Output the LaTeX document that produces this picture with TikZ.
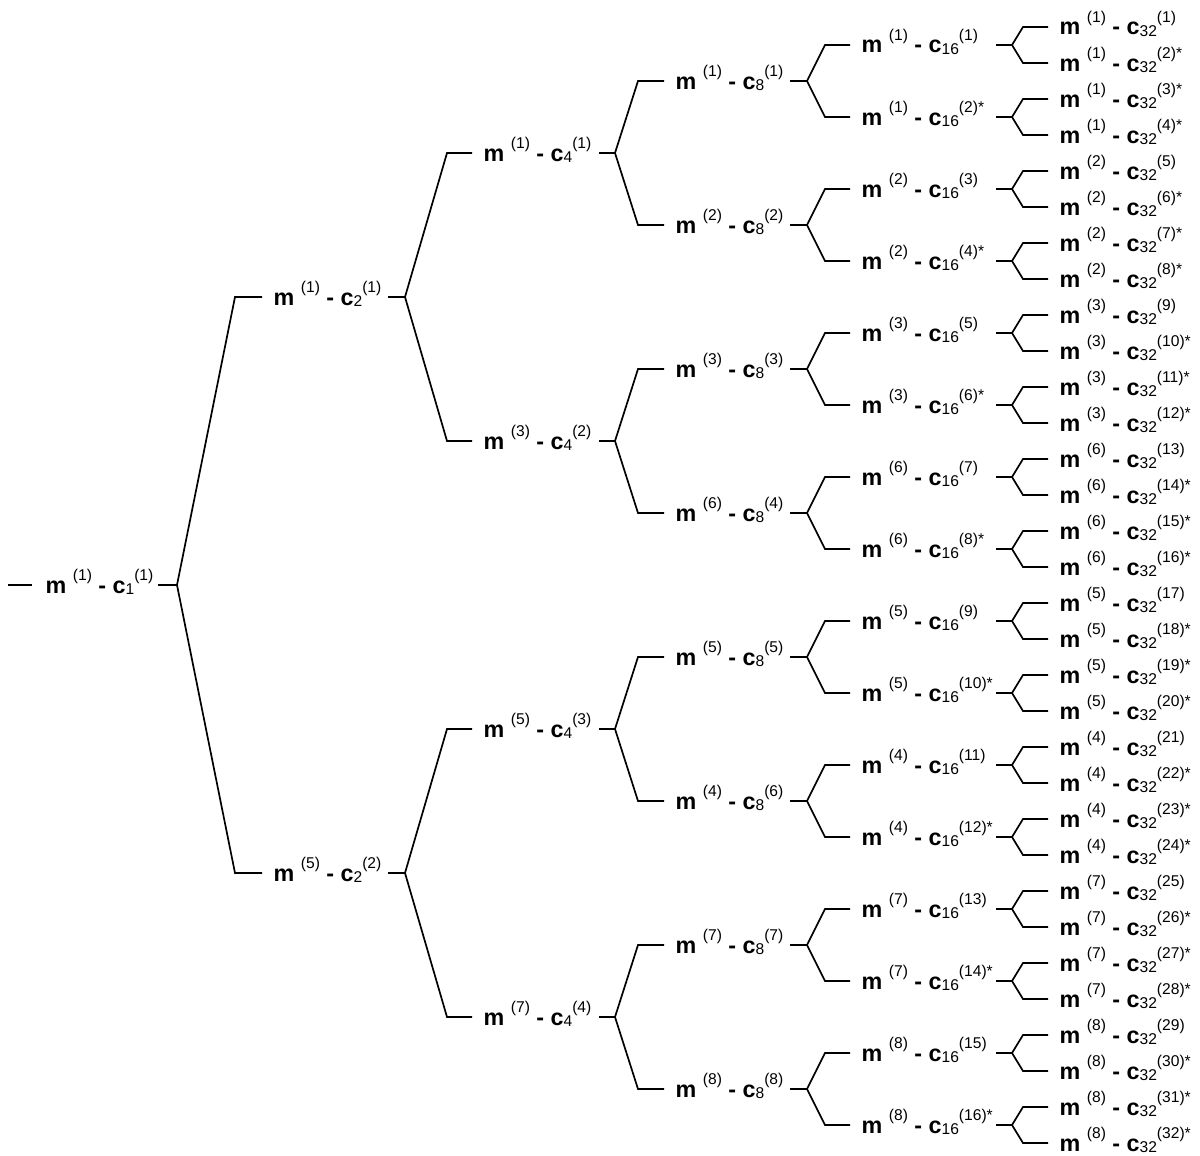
\documentclass[tikz,border=0pt]{standalone}
\usepackage{fontspec}
\setmainfont{Liberation Sans}
\newcommand{\scr}[1]{{\fontsize{15.6}{16}\selectfont\mdseries #1}}
\newcommand{\lab}[3]{m \raisebox{13pt}{\scr{(#1)}} - c\raisebox{-1.5pt}{\scr{#2}}\raisebox{13pt}{\scr{#3}}}
\begin{document}
\begin{tikzpicture}[x=1pt,y=-1pt,
  conn/.style={line width=1.7pt, line join=miter},
  lbl/.style={anchor=base west, inner sep=0pt, font=\fontsize{23.3}{26}\selectfont\bfseries}]
\useasboundingbox (0,0) rectangle (1200,1156);
% level 1
\coordinate (s0) at (8,585);
\coordinate (s1) at (32,585);
\node[lbl] (t1-0) at (45.5,593) {\lab{1}{1}{(1)}};
\coordinate (r1-0) at (158,585);
\coordinate (b1-0) at (177,585);
\draw[conn] (s0) -- (s1);
\draw[conn] (r1-0) -- (b1-0);
% level 2
\foreach \i/\m in {0/1,1/5}{
  \pgfmathsetmacro\yy{297+576*\i}
  \pgfmathtruncatemacro\n{\i+1}
  \pgfmathtruncatemacro\p{div(\i,2)}
  \coordinate (c2-\i) at (235,\yy);
  \coordinate (h2-\i) at (262,\yy);
  \node[lbl] (t2-\i) at (273.5,{\yy+8}) {\lab{\m}{2}{(\n)}};
  \coordinate (r2-\i) at (388,\yy);
  \coordinate (b2-\i) at (405,\yy);
  \draw[conn] (b1-\p) -- (c2-\i) -- (h2-\i);
  \draw[conn] (r2-\i) -- (b2-\i);
}
% level 3
\foreach \i/\m in {0/1,1/3,2/5,3/7}{
  \pgfmathsetmacro\yy{153+288*\i}
  \pgfmathtruncatemacro\n{\i+1}
  \pgfmathtruncatemacro\p{div(\i,2)}
  \coordinate (c3-\i) at (447,\yy);
  \coordinate (h3-\i) at (472,\yy);
  \node[lbl] (t3-\i) at (483.5,{\yy+8}) {\lab{\m}{4}{(\n)}};
  \coordinate (r3-\i) at (599,\yy);
  \coordinate (b3-\i) at (615,\yy);
  \draw[conn] (b2-\p) -- (c3-\i) -- (h3-\i);
  \draw[conn] (r3-\i) -- (b3-\i);
}
% level 4
\foreach \i/\m in {0/1,1/2,2/3,3/6,4/5,5/4,6/7,7/8}{
  \pgfmathsetmacro\yy{81+144*\i}
  \pgfmathtruncatemacro\n{\i+1}
  \pgfmathtruncatemacro\p{div(\i,2)}
  \coordinate (c4-\i) at (638,\yy);
  \coordinate (h4-\i) at (664,\yy);
  \node[lbl] (t4-\i) at (675.5,{\yy+8}) {\lab{\m}{8}{(\n)}};
  \coordinate (r4-\i) at (790,\yy);
  \coordinate (b4-\i) at (807,\yy);
  \draw[conn] (b3-\p) -- (c4-\i) -- (h4-\i);
  \draw[conn] (r4-\i) -- (b4-\i);
}
% level 5
\foreach \i/\m in {0/1,1/1,2/2,3/2,4/3,5/3,6/6,7/6,8/5,9/5,10/4,11/4,12/7,13/7,14/8,15/8}{
  \pgfmathsetmacro\yy{45+72*\i}
  \pgfmathtruncatemacro\n{\i+1}
  \pgfmathtruncatemacro\p{div(\i,2)}
  \coordinate (c5-\i) at (825,\yy);
  \coordinate (h5-\i) at (850,\yy);
  \node[lbl] (t5-\i) at (861.5,{\yy+8}) {\lab{\m}{16}{(\n)\ifodd\i\relax*\fi}};
  \coordinate (r5-\i) at (996,\yy);
  \coordinate (b5-\i) at (1012,\yy);
  \draw[conn] (b4-\p) -- (c5-\i) -- (h5-\i);
  \draw[conn] (r5-\i) -- (b5-\i);
}
% level 6
\foreach \i/\m in {0/1,1/1,2/1,3/1,4/2,5/2,6/2,7/2,8/3,9/3,10/3,11/3,12/6,13/6,14/6,15/6,
                   16/5,17/5,18/5,19/5,20/4,21/4,22/4,23/4,24/7,25/7,26/7,27/7,28/8,29/8,30/8,31/8}{
  \pgfmathsetmacro\yy{27+36*\i}
  \pgfmathtruncatemacro\n{\i+1}
  \pgfmathtruncatemacro\p{div(\i,2)}
  \pgfmathtruncatemacro\st{mod(\i,4)}
  \coordinate (c6-\i) at (1023,\yy);
  \coordinate (h6-\i) at (1048,\yy);
  \node[lbl] (t6-\i) at (1059.5,{\yy+8}) {\lab{\m}{32}{(\n)\ifnum\st=0 \else*\fi}};
  \draw[conn] (b5-\p) -- (c6-\i) -- (h6-\i);
}
\end{tikzpicture}
\end{document}
